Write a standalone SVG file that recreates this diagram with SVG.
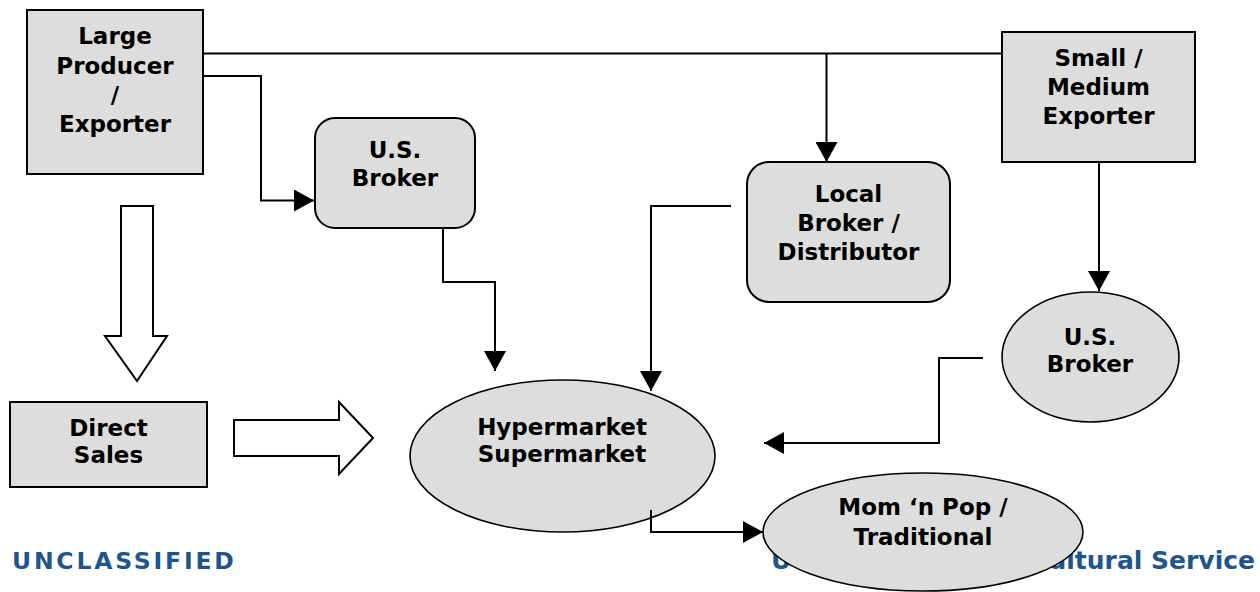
<svg xmlns="http://www.w3.org/2000/svg" width="1260" height="592" viewBox="0 0 1260 592">
<style>
.box{fill:#dddddd;stroke:#000;stroke-width:2}
.ell{fill:#dddddd;stroke:#000;stroke-width:1.6}
.hollow{fill:#fff;stroke:#000;stroke-width:2;stroke-linejoin:miter}
.lbl{font-family:"DejaVu Sans",Verdana,sans-serif;font-weight:bold;font-size:23px;fill:#000;text-anchor:middle}
.foot{font-family:"DejaVu Sans",Verdana,sans-serif;font-weight:bold;fill:#1d5592}
.con{fill:none;stroke:#000;stroke-width:2}
</style>
<defs>
<marker id="ah" markerUnits="userSpaceOnUse" markerWidth="20" markerHeight="22" refX="20" refY="11" orient="auto">
<path d="M0,0 L20,11 L0,22 z" fill="#000"/>
</marker>
</defs>
<rect width="1260" height="592" fill="#fff"/>
<g id="footer">
<text class="foot" x="12" y="569" font-size="23.5" letter-spacing="2.8">UNCLASSIFIED</text>
<text class="foot" x="771" y="569" font-size="25">U</text>
<text class="foot" x="1255" y="569" font-size="25" text-anchor="end">ultural Service</text>
</g>
<g id="large-producer">
<rect class="box" x="27" y="10" width="176" height="164"/>
<text class="lbl" x="115" y="44">Large</text>
<text class="lbl" x="115" y="73.5">Producer</text>
<text class="lbl" x="115" y="103">/</text>
<text class="lbl" x="115" y="132">Exporter</text>
</g>
<g id="small-medium-exporter">
<rect class="box" x="1002" y="32" width="193" height="130"/>
<text class="lbl" x="1098.5" y="66">Small /</text>
<text class="lbl" x="1098.5" y="95">Medium</text>
<text class="lbl" x="1098.5" y="124">Exporter</text>
</g>
<g id="us-broker-1">
<rect class="box" x="315" y="118" width="160" height="110" rx="20" ry="20"/>
<text class="lbl" x="395" y="158">U.S.</text>
<text class="lbl" x="395" y="186">Broker</text>
</g>
<g id="local-broker">
<rect class="box" x="747" y="162" width="203" height="140" rx="22" ry="22"/>
<text class="lbl" x="848.5" y="202">Local</text>
<text class="lbl" x="848.5" y="231">Broker /</text>
<text class="lbl" x="848.5" y="260">Distributor</text>
</g>
<g id="us-broker-2">
<ellipse class="ell" cx="1090.5" cy="357" rx="88.5" ry="65"/>
<text class="lbl" x="1090" y="345">U.S.</text>
<text class="lbl" x="1090" y="372">Broker</text>
</g>
<g id="direct-sales">
<rect class="box" x="10" y="402" width="197" height="85"/>
<text class="lbl" x="108.5" y="436">Direct</text>
<text class="lbl" x="108.5" y="463">Sales</text>
</g>
<g id="hypermarket">
<ellipse class="ell" cx="562.5" cy="456" rx="152.5" ry="76"/>
<text class="lbl" x="562" y="435">Hypermarket</text>
<text class="lbl" x="562" y="462">Supermarket</text>
</g>
<g id="mom-n-pop">
<ellipse class="ell" cx="923" cy="532" rx="160" ry="59"/>
<text class="lbl" x="923" y="515">Mom ‘n Pop /</text>
<text class="lbl" x="923" y="545">Traditional</text>
</g>
<g id="connectors">
<polygon class="hollow" points="121,206 153,206 153,336 167,336 137,381 105,336 121,336"/>
<polygon class="hollow" points="234,420 339,420 339,402 373,438 339,474 339,456 234,456"/>
<path class="con" d="M203,53.5 H1002"/>
<path class="con" d="M826.5,53.5 V162" marker-end="url(#ah)"/>
<path class="con" d="M203,76 H261 V200.5 H314" marker-end="url(#ah)"/>
<path class="con" d="M443,228 V282 H495 V371" marker-end="url(#ah)"/>
<path class="con" d="M731,206 H651 V391" marker-end="url(#ah)"/>
<path class="con" d="M1099,162 V291" marker-end="url(#ah)"/>
<path class="con" d="M983,358 H939 V443 H764" marker-end="url(#ah)"/>
<path class="con" d="M651,510 V532 H763" marker-end="url(#ah)"/>
</g>
</svg>
